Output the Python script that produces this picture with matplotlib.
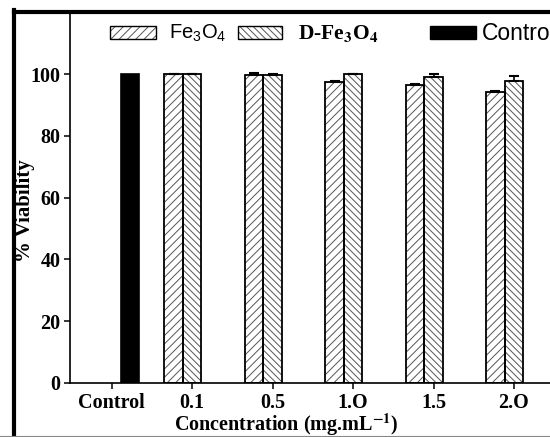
import matplotlib
matplotlib.use("Agg")
import matplotlib.pyplot as plt
from matplotlib.patches import Rectangle
from matplotlib.lines import Line2D
import numpy as np

categories = ["Control", "0.1", "0.5", "1.O", "1.5", "2.O"]
control_value = [100]
fe3o4 = [100, 99.9, 97.5, 96.6, 94.2]
d_fe3o4 = [100, 99.6, 100, 99.2, 97.8]
fe3o4_err = [0.2, 0.4, 0.3, 0.3, 0.5]
d_fe3o4_err = [0.2, 0.6, 0.2, 1.0, 1.5]
yticks = [0, 20, 40, 60, 80, 100]

plt.rcParams['mathtext.fontset'] = 'custom'
plt.rcParams['mathtext.rm'] = 'Liberation Sans'
plt.rcParams['mathtext.bf'] = 'Liberation Sans:bold'
plt.rcParams['hatch.linewidth'] = 0.7

W, H = 550, 437
fig = plt.figure(figsize=(W / 100, H / 100), dpi=100)
ax = fig.add_axes([70 / W, (H - 383) / H, (640 - 70) / W, (383 - 14) / H])

bw = 0.23
x = np.arange(len(categories))
xs = x[1:]
hatch_col = '#555555'

# hatched fills
ax.bar(xs - bw, fe3o4, bw, facecolor='white', edgecolor=hatch_col, hatch='////', linewidth=0, zorder=2)
ax.bar(xs, d_fe3o4, bw, facecolor='white', edgecolor=hatch_col, hatch='\\\\\\\\\\', linewidth=0, zorder=2)
ax.bar(x[:1] + bw, control_value, bw, facecolor='black', edgecolor='black', linewidth=1.2, zorder=2)
# outlines
ax.bar(xs - bw, fe3o4, bw, fill=False, edgecolor='black', linewidth=1.3, zorder=3)
ax.bar(xs, d_fe3o4, bw, fill=False, edgecolor='black', linewidth=1.3, zorder=3)

ax.errorbar(xs - bw, fe3o4, yerr=[np.zeros(len(fe3o4)), fe3o4_err], fmt='none',
            ecolor='black', elinewidth=1.2, capsize=3.5, capthick=1.5, zorder=4)
ax.errorbar(xs, d_fe3o4, yerr=[np.zeros(len(d_fe3o4)), d_fe3o4_err], fmt='none',
            ecolor='black', elinewidth=1.2, capsize=3.5, capthick=1.5, zorder=4)

ax.set_xlim(-0.518, (640 - 111.7) / 80.46)
ax.set_ylim(0, 119.5)
ax.set_xticks(x)
ax.set_xticklabels(categories)
ax.set_yticks(yticks)

serif_bold = dict(family='Liberation Serif', weight='bold')
for lab in ax.get_xticklabels() + ax.get_yticklabels():
    lab.set_fontfamily('Liberation Serif')
    lab.set_fontweight('bold')
    lab.set_fontsize(14.5)

ax.tick_params(axis='both', direction='out', length=4.5, width=1.1, pad=2.5, colors='black')
ax.tick_params(axis='x', pad=2.5)
for s in ['top', 'right']:
    ax.spines[s].set_visible(False)
for s in ['left', 'bottom']:
    ax.spines[s].set_linewidth(1.2)

ax.set_ylabel('% Viability', fontsize=15, va='center', **serif_bold)
ax.yaxis.set_label_coords((25 - 70) / (640 - 70), (383 - 211) / (383 - 14))
xl = ax.set_xlabel('Concentration (mg.mL$^{\\mathbf{-1}}$)', fontsize=14.5, **serif_bold)
xl.set_math_fontfamily('stix')
ax.xaxis.set_label_coords((286 - 70) / (640 - 70), -(424.5 - 383) / (383 - 14))
ax.xaxis.label.set_verticalalignment('center')

# outer frame
fig.add_artist(Line2D([13.5 / W, 13.5 / W], [0, 1 - 10 / H], transform=fig.transFigure,
                      color='black', linewidth=3.0, solid_capstyle='projecting'))
fig.add_artist(Line2D([13.5 / W, 1.0], [1 - 12 / H, 1 - 12 / H], transform=fig.transFigure,
                      color='black', linewidth=3.0))
fig.add_artist(Line2D([0, 1], [1 - 435.5 / H, 1 - 435.5 / H], transform=fig.transFigure,
                      color='#888888', linewidth=0.8))

# legend (manual)
def fig_rect(x0, x1, y0, y1, **kw):
    r = Rectangle((x0 / W, 1 - y1 / H), (x1 - x0) / W, (y1 - y0) / H,
                  transform=fig.transFigure, **kw)
    fig.add_artist(r)

fig_rect(110, 156, 26, 39, facecolor='white', edgecolor=hatch_col, hatch='////', linewidth=0)
fig_rect(110, 156, 26, 39, fill=False, edgecolor='black', linewidth=1.0)
fig_rect(238, 282, 26, 39, facecolor='white', edgecolor=hatch_col, hatch='\\\\\\\\\\', linewidth=0)
fig_rect(238, 282, 26, 39, fill=False, edgecolor='black', linewidth=1.0)
fig_rect(430, 476, 26, 39, facecolor='black', edgecolor='black', linewidth=1.0)

t1 = fig.text(169 / W, 1 - 33 / H, 'Fe$_\\mathrm{3}$O$_\\mathrm{4}$', family='Liberation Sans',
              fontsize=14.5, va='center', ha='left')
t2 = fig.text(298 / W, 1 - 33 / H, 'D-Fe$_\\mathbf{3}$O$_\\mathbf{4}$', fontsize=15.5,
              va='center', ha='left', **serif_bold)
t2.set_math_fontfamily('stix')
fig.text(482 / W, 1 - 33 / H, 'Control', family='Liberation Sans', fontsize=16.5,
         va='center', ha='left')

fig.savefig('out.png', dpi=100)
